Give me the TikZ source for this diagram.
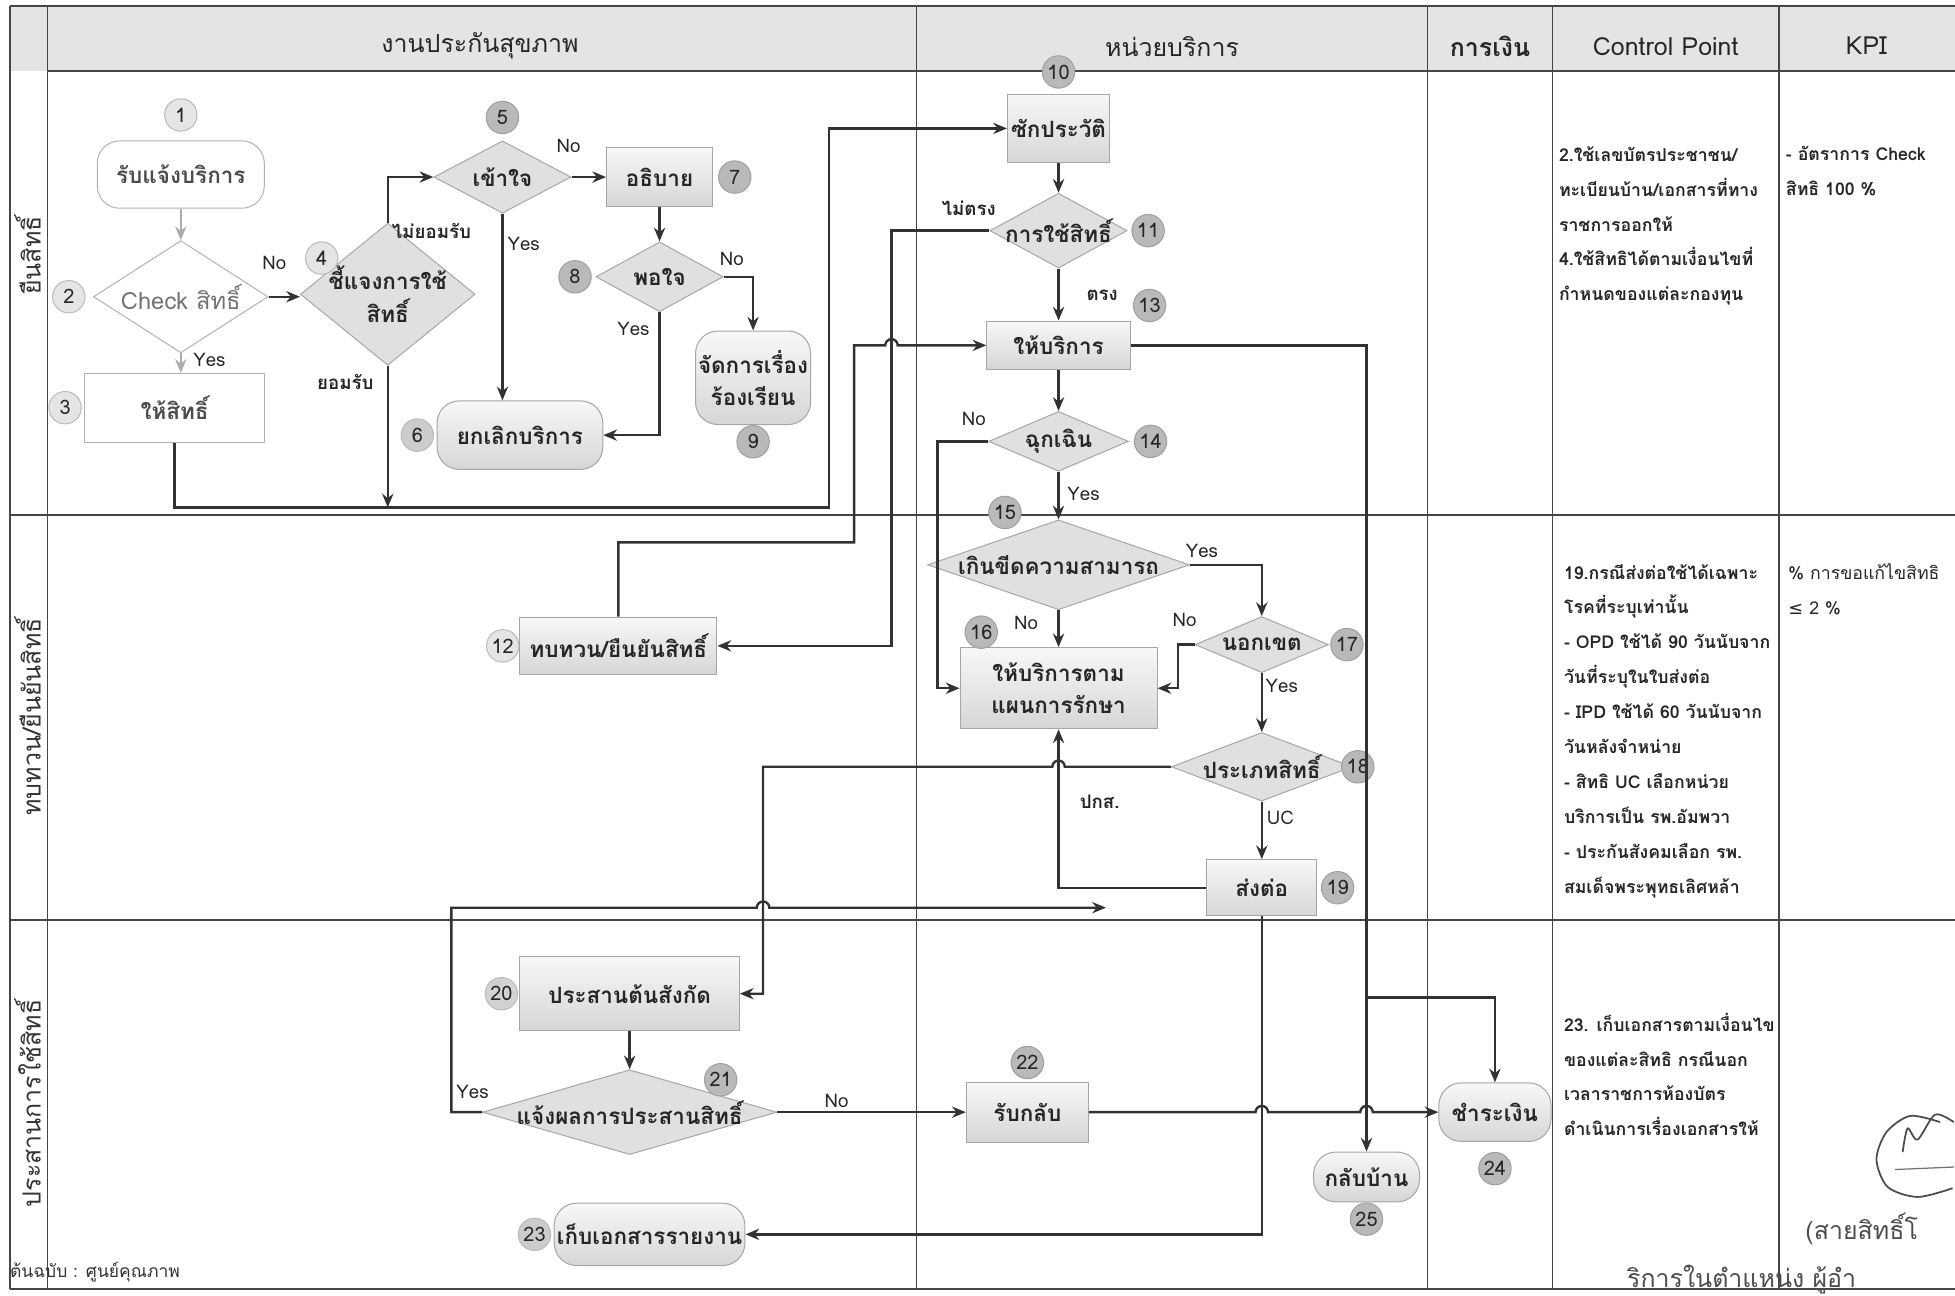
\documentclass[tikz,border=0pt]{standalone}
\usepackage{fontspec}
\setmainfont[Script=Thai]{Loma}
\newfontfamily\symfont{DejaVu Sans}
\usepackage{tikz}
\usetikzlibrary{shapes.geometric, arrows.meta, positioning, calc}
\definecolor{flowdark}{RGB}{50, 50, 50}
\definecolor{tabgray}{RGB}{70, 70, 70}
\definecolor{headgray}{RGB}{228, 228, 228}

\begin{document}
\begin{tikzpicture}[
  x=0.5pt, y=-0.5pt,
  node distance=2pt,
  procbox/.style={rectangle, draw=gray!70, top color=gray!6, bottom color=gray!32,
                  align=center, inner sep=1pt, text=black!85,
                  font=\fontsize{9}{13}\selectfont\bfseries},
  term/.style={procbox, rounded corners=9pt},
  decide/.style={diamond, draw=gray!70, fill=gray!24, align=center,
                 inner xsep=-40pt, inner ysep=-8pt,
                 text=black!85, font=\fontsize{9}{13}\selectfont\bfseries},
  plainbox/.style={rectangle, draw=gray!60, fill=white, align=center, text=black!70,
                   font=\fontsize{9}{13}\selectfont\bfseries},
  plainterm/.style={plainbox, rounded corners=9pt},
  plaindec/.style={diamond, draw=gray!60, fill=white, inner xsep=-40pt, inner ysep=-8pt,
                   text=black!55, font=\fontsize{9.5}{13}\selectfont},
  num/.style={circle, draw=gray!75, fill=gray!55, minimum size=13pt, inner sep=0pt,
              text=black!85, font=\fontsize{8}{8}\selectfont},
  numlt/.style={num, fill=gray!20, draw=gray!55},
  lbl/.style={text=black!85, font=\fontsize{7.5}{9}\selectfont},
  tlbl/.style={text=black!85, font=\fontsize{7.5}{9}\selectfont\bfseries},
  note/.style={anchor=north west, align=left, text=black!85, inner sep=0pt,
               font=\fontsize{7.1}{14}\selectfont\bfseries},
  colhead/.style={text=black!85, font=\fontsize{10}{12}\selectfont},
  lanehead/.style={rotate=90, text=black!80, font=\fontsize{10}{12}\selectfont},
  tabline/.style={line width=0.6pt, draw=tabgray},
  arrow/.style={-{Stealth[length=5.5pt, width=4.5pt]}, line width=0.95pt, draw=flowdark},
  arrowlt/.style={arrow, draw=gray!65},
  sigline/.style={black!70, line width=0.7pt},
  sigtext/.style={anchor=west, text=black!70, font=\fontsize{10}{11}\selectfont},
]
  \useasboundingbox (0,0) rectangle (1568,1039);

  % table frame
  \fill[headgray] (8,5) rectangle (1568,57);
  \draw[tabline] (8,5) -- (1568,5);
  \draw[tabline] (38,57) -- (1568,57);
  \draw[tabline] (8,413) -- (1568,413);
  \draw[tabline] (8,738) -- (1568,738);
  \draw[tabline] (8,1034) -- (1568,1034);
  \foreach \cx in {8, 38, 735, 1145, 1245, 1427}
    \draw[tabline] (\cx,5) -- (\cx,1034);

  \node[colhead] (h1) at (385,37) {งานประกันสุขภาพ};
  \node[colhead] (h2) at (940,37) {หน่วยบริการ};
  \node[colhead, font=\fontsize{10}{12}\selectfont\bfseries] (h3) at (1195,37) {การเงิน};
  \node[colhead] (h4) at (1336,37) {Control Point};
  \node[colhead] (h5) at (1497,37) {KPI};

  \node[lanehead] (lane1) at (22,205) {ยืนสิทธิ์};
  \node[lanehead] (lane2) at (22,575) {ทบทวน/ยืนยันสิทธิ์};
  \node[lanehead] (lane3) at (22,885) {ประสานการใช้สิทธิ์};

  % lane 1: health insurance desk
  \node[plainterm, minimum width=67pt, minimum height=27pt] (rcv) at (145,140) {รับแจ้งบริการ};
  \node[numlt, above=3.5pt of rcv] (n1) {1};
  \node[plaindec, aspect=1.56, minimum width=70pt, minimum height=45pt] (chk) at (145,238) {Check สิทธิ์};
  \node[numlt, left=3pt of chk] (n2) {2};
  \node[plainbox, minimum width=72pt, minimum height=27.5pt] (give) at (140,327) {ให้สิทธิ์};
  \node[numlt, left=1pt of give] (n3) {3};
  \node[decide, aspect=1.23, minimum width=70pt, minimum height=57pt] (expl) at (311,236) {ชี้แจงการใช้\\สิทธิ์};
  \node[numlt] (n4) at (258,207) {4};
  \node[decide, aspect=1.9, minimum width=55pt, minimum height=29pt] (undst) at (403,142) {เข้าใจ};
  \node[num, above=2.5pt of undst] (n5) {5};
  \node[procbox, minimum width=42.5pt, minimum height=23.5pt] (clar) at (529,142) {อธิบาย};
  \node[num, right=2pt of clar] (n7) {7};
  \node[decide, aspect=1.8, minimum width=51pt, minimum height=28pt] (satis) at (529,222) {พอใจ};
  \node[num, left=1.5pt of satis] (n8) {8};
  \node[term, minimum width=44pt, minimum height=37.5pt] (compl) at (604,303) {จัดการเรื่อง\\ร้องเรียน};
  \node[num, below=0pt of compl] (n9) {9};
  \node[term, minimum width=66.5pt, minimum height=27.5pt] (cancel) at (417,349) {ยกเลิกบริการ};
  \node[numlt, left=1pt of cancel, fill=gray!40] (n6) {6};
  \coordinate (merge) at (311,407);

  % service unit
  \node[procbox, minimum width=41pt, minimum height=27.5pt] (hist) at (849,103) {ซักประวัติ};
  \node[num, above=2pt of hist] (n10) {10};
  \node[decide, aspect=1.83, minimum width=55pt, minimum height=30pt] (use) at (849,185) {การใช้สิทธิ์};
  \node[num, right=1.5pt of use] (n11) {11};
  \node[procbox, minimum width=57.5pt, minimum height=19.5pt] (serv) at (849,277) {ให้บริการ};
  \node[num] (n13) at (922,245) {13};
  \node[decide, aspect=2.33, minimum width=56pt, minimum height=24pt] (emerg) at (849,354) {ฉุกเฉิน};
  \node[num, right=2pt of emerg] (n14) {14};
  \node[decide, aspect=2.9, minimum width=105pt, minimum height=36pt] (over) at (849,453) {เกินขีดความสามารถ};
  \node[num] (n15) at (806,411) {15};
  \node[procbox, minimum width=79pt, minimum height=32.5pt] (plan) at (849,552) {ให้บริการตาม\\แผนการรักษา};
  \node[num] (n16) at (787,507) {16};
  \node[decide, aspect=2.4, minimum width=53.5pt, minimum height=22.5pt] (zone) at (1012,517) {นอกเขต};
  \node[num, right=0.5pt of zone] (n17) {17};
  \node[decide, aspect=2.6, minimum width=72.5pt, minimum height=27.5pt] (kind) at (1012,615) {ประเภทสิทธิ์};
  \node[num] (n18) at (1089,615) {18};
  \node[procbox, minimum width=44pt, minimum height=22.5pt] (refer) at (1012,712) {ส่งต่อ};
  \node[num, right=1.5pt of refer] (n19) {19};
  \node[procbox, minimum width=79pt, minimum height=23pt] (review) at (496,518) {ทบทวน/ยืนยันสิทธิ์};
  \node[numlt, left=0pt of review] (n12) {12};

  % lane 3
  \node[procbox, minimum width=88pt, minimum height=29.5pt] (coord) at (505,797) {ประสานต้นสังกัด};
  \node[numlt, left=0.5pt of coord, fill=gray!35] (n20) {20};
  \node[decide, aspect=3.5, minimum width=118pt, minimum height=34pt] (notify) at (505,892) {แจ้งผลการประสานสิทธิ์};
  \node[num] (n21) at (578,866) {21};
  \node[procbox, minimum width=49pt, minimum height=24pt] (back) at (824,892) {รับกลับ};
  \node[num, above=1pt of back] (n22) {22};
  \node[term, minimum width=76.5pt, minimum height=25pt] (file) at (521,990) {เก็บเอกสารรายงาน};
  \node[numlt, left=1pt of file, fill=gray!40] (n23) {23};
  \node[term, minimum width=45pt, minimum height=23.5pt] (pay) at (1199,892) {ชำระเงิน};
  \node[num, below=4pt of pay] (n24) {24};
  \node[term, minimum width=42.5pt, minimum height=20pt] (home) at (1096,944) {กลับบ้าน};
  \node[num, below=0pt of home] (n25) {25};
  \coordinate (split) at (1096,800);
  \coordinate (yesend) at (887,728);

  % connectors, lane 1
  \draw[arrowlt] (rcv) -- (chk);
  \draw[arrow] (chk.east) -- (chk.east -| expl.west);
  \draw[arrowlt] (chk.south) -- (chk.south |- give.north);
  \draw[arrow] (expl.north) |- (undst.west);
  \draw[arrow] (expl) -- (merge);
  \draw[arrow] (give.south) |- (665,407) |- (hist.west);
  \draw[arrow] (undst) -- (clar);
  \draw[arrow] (undst.south) -- (undst.south |- cancel.north);
  \draw[arrow] (clar) -- (satis);
  \draw[arrow] (satis.east) -| (compl.north);
  \draw[arrow] (satis.south) |- (cancel.east);

  % connectors, service unit
  \draw[arrow] (hist) -- (use);
  \draw[arrow] (use.west) -- (715,185) |- (review.east);
  \draw[arrow] (use) -- (serv);
  \draw[arrow] (review.north) |- (685,435) -- (685,277) -- (710,277)
    arc[start angle=180, end angle=0, radius=2.5pt] -- (serv.west);
  \draw[arrow] (serv.east) -| (home.north);
  \draw[arrow] (split) -| (pay.north);
  \draw[arrow] (serv) -- (emerg);
  \draw[arrow] (emerg.west) -| (752,552) -- (plan.west);
  \draw[arrow] (emerg) -- (over);
  \draw[arrow] (over) -- (plan);
  \draw[arrow] (over.east) -| (zone.north);
  \draw[arrow] (zone.west) -| (945,552) -- (plan.east);
  \draw[arrow] (zone) -- (kind);
  \draw[arrow] (kind.west) -- (854,615) arc[start angle=0, end angle=180, radius=2.5pt]
    -- (612,615) |- (coord.east);
  \draw[arrow] (kind) -- (refer);
  \draw[arrow] (refer.west) -| (plan.south);
  \draw[arrow] (refer.south) |- (file.east);

  % connectors, lane 3
  \draw[arrow] (coord) -- (notify);
  \draw[arrow] (notify.west) -- (362,892) |- (607,728)
    arc[start angle=180, end angle=0, radius=2.5pt] -- (yesend);
  \draw[arrow] (notify) -- (back);
  \draw[arrow] (back.east) -- (1007,892) arc[start angle=180, end angle=0, radius=2.5pt]
    -- (1091,892) arc[start angle=180, end angle=0, radius=2.5pt] -- (pay.west);

  % branch labels
  \node[lbl] (l1) at (220,211) {No};
  \node[lbl] (l2) at (168,289) {Yes};
  \node[tlbl] (l3) at (346,185) {ไม่ยอมรับ};
  \node[tlbl] (l4) at (277,306) {ยอมรับ};
  \node[lbl] (l5) at (456,117) {No};
  \node[lbl] (l6) at (420,196) {Yes};
  \node[lbl] (l7) at (587,208) {No};
  \node[lbl] (l8) at (508,264) {Yes};
  \node[tlbl] (l9) at (777,167) {ไม่ตรง};
  \node[tlbl] (l10) at (884,237) {ตรง};
  \node[lbl] (l11) at (781,336) {No};
  \node[lbl] (l12) at (869,396) {Yes};
  \node[lbl] (l13) at (823,500) {No};
  \node[lbl] (l14) at (964,442) {Yes};
  \node[lbl] (l15) at (950,497) {No};
  \node[lbl] (l16) at (1028,550) {Yes};
  \node[lbl] (l17) at (1027,656) {UC};
  \node[tlbl] (l18) at (882,643) {ปกส.};
  \node[lbl] (l19) at (379,876) {Yes};
  \node[lbl] (l20) at (671,883) {No};

  % control points and KPI
  \node[note] (cp1) at (1250,117) {2.ใช้เลขบัตรประชาชน/\\ทะเบียนบ้าน/เอกสารที่ทาง\\ราชการออกให้\\4.ใช้สิทธิได้ตามเงื่อนไขที่\\กำหนดของแต่ละกองทุน};
  \node[note] (kpi1) at (1432,117) {- อัตราการ Check\\สิทธิ 100 \%};
  \node[note] (cp2) at (1254,452) {19.กรณีส่งต่อใช้ได้เฉพาะ\\โรคที่ระบุเท่านั้น\\- OPD ใช้ได้ 90 วันนับจาก\\วันที่ระบุในใบส่งต่อ\\- IPD ใช้ได้ 60 วันนับจาก\\วันหลังจำหน่าย\\- สิทธิ UC เลือกหน่วย\\บริการเป็น รพ.อัมพวา\\- ประกันสังคมเลือก รพ.\\สมเด็จพระพุทธเลิศหล้า};
  \node[note, font=\fontsize{7.1}{14}\selectfont] (kpi2) at (1434,452) {\% การขอแก้ไขสิทธิ\\{\symfont ≤} 2 \%};
  \node[note] (cp3) at (1254,812) {23. เก็บเอกสารตามเงื่อนไข\\ของแต่ละสิทธิ กรณีนอก\\เวลาราชการห้องบัตร\\ดำเนินการเรื่องเอกสารให้};

  \node[anchor=west, text=black!80, font=\fontsize{7}{8}\selectfont] (src) at (1,1020) {ต้นฉบับ : ศูนย์คุณภาพ};

  % signature
  \draw[sigline] plot[smooth] coordinates {(1556,900) (1532,895) (1513,908) (1505,930) (1514,952) (1538,960) (1566,953)};
  \draw[sigline] plot[smooth] coordinates {(1526,924) (1530,905) (1538,914) (1552,894) (1567,900)};
  \draw[sigline, black!55, line width=0.5pt] (1520,938) -- (1567,936);
  \node[sigtext] (sig1) at (1441,986) {(สายสิทธิ์โ};
  \node[sigtext] (sig2) at (1298,1026) {ริการในตำแหน่ง ผู้อำ};
\end{tikzpicture}
\end{document}
